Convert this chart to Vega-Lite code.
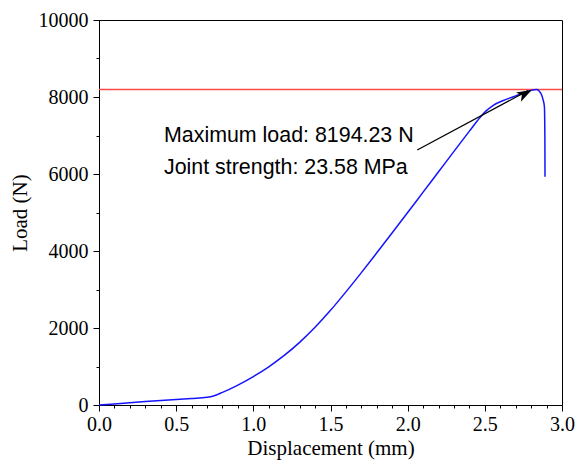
{
  "$schema": "https://vega.github.io/schema/vega-lite/v6.json",
  "width": 463,
  "height": 385,
  "autosize": {"type": "none"},
  "padding": {"left": 99, "top": 20, "right": 14, "bottom": 56},
  "background": "white",
  "config": {
    "view": {"stroke": "black", "strokeWidth": 1},
    "axis": {
      "grid": false,
      "domainColor": "black",
      "domainWidth": 1,
      "tickColor": "black",
      "tickWidth": 1,
      "labelFont": "Liberation Serif",
      "labelFontSize": 20,
      "labelColor": "black",
      "titleFont": "Liberation Serif",
      "titleFontSize": 21,
      "titleFontWeight": "normal",
      "titleColor": "black",
      "labelOverlap": false,
      "labelFlush": false,
      "labelBound": false
    }
  },
  "encoding": {
    "x": {
      "field": "x",
      "type": "quantitative",
      "scale": {"domain": [0, 3], "nice": false, "zero": false},
      "axis": {
        "title": "Displacement (mm)",
        "values": [0, 0.1, 0.2, 0.3, 0.4, 0.5, 0.6, 0.7, 0.8, 0.9, 1.0, 1.1, 1.2, 1.3, 1.4, 1.5, 1.6, 1.7, 1.8, 1.9, 2.0, 2.1, 2.2, 2.3, 2.4, 2.5, 2.6, 2.7, 2.8, 2.9, 3.0],
        "labelExpr": "round(datum.value*10) % 5 === 0 ? format(datum.value, '.1f') : ''",
        "tickSize": {"condition": {"test": "round(datum.value*10) % 5 === 0", "value": 6}, "value": 3},
        "labelPadding": 3,
        "titlePadding": 3
      }
    },
    "y": {
      "field": "y",
      "type": "quantitative",
      "scale": {"domain": [0, 10000], "nice": false},
      "axis": {
        "title": "Load (N)",
        "values": [0, 1000, 2000, 3000, 4000, 5000, 6000, 7000, 8000, 9000, 10000],
        "labelExpr": "datum.value % 2000 === 0 ? '' + datum.value : ''",
        "tickSize": {"condition": {"test": "datum.value % 2000 === 0", "value": 6}, "value": 3},
        "labelPadding": 5,
        "titlePadding": 8
      }
    }
  },
  "layer": [
    {
      "data": {"values": [{"x": 0, "x2": 3, "y": 8194.23}]},
      "mark": {"type": "rule", "color": "#ff4a4a", "strokeWidth": 1.3},
      "encoding": {"x2": {"field": "x2"}}
    },
    {
      "data": {"values": [
        {"x": 0, "y": 0}, {"x": 0.1, "y": 28}, {"x": 0.2, "y": 58}, {"x": 0.3, "y": 88},
        {"x": 0.4, "y": 115}, {"x": 0.5, "y": 140}, {"x": 0.6, "y": 167}, {"x": 0.7, "y": 200},
        {"x": 0.741, "y": 234}, {"x": 0.8, "y": 328}, {"x": 0.9, "y": 518}, {"x": 1.0, "y": 738},
        {"x": 1.1, "y": 993}, {"x": 1.2, "y": 1288}, {"x": 1.3, "y": 1628}, {"x": 1.4, "y": 2018},
        {"x": 1.5, "y": 2458}, {"x": 1.6, "y": 2938}, {"x": 1.7, "y": 3438}, {"x": 1.8, "y": 3953},
        {"x": 1.9, "y": 4473}, {"x": 2.0, "y": 4998}, {"x": 2.1, "y": 5528}, {"x": 2.2, "y": 6058},
        {"x": 2.3, "y": 6588}, {"x": 2.4, "y": 7113}, {"x": 2.469, "y": 7470}, {"x": 2.51, "y": 7645},
        {"x": 2.555, "y": 7785}, {"x": 2.62, "y": 7910}, {"x": 2.685, "y": 8008}, {"x": 2.74, "y": 8090},
        {"x": 2.793, "y": 8164}, {"x": 2.82, "y": 8190}, {"x": 2.836, "y": 8192}, {"x": 2.855, "y": 8140},
        {"x": 2.868, "y": 8052}, {"x": 2.878, "y": 7920}, {"x": 2.886, "y": 7748}, {"x": 2.889, "y": 7000},
        {"x": 2.89, "y": 5930}
      ]},
      "mark": {"type": "line", "color": "#1414ff", "strokeWidth": 1.5, "interpolate": "monotone"}
    },
    {
      "data": {"values": [{"x": 2.062, "y": 6623, "x2": 2.78, "y2": 8165}]},
      "mark": {"type": "rule", "color": "black", "strokeWidth": 1.3},
      "encoding": {"x2": {"field": "x2"}, "y2": {"field": "y2"}}
    },
    {
      "data": {"values": [{"x": 2.804, "y": 8180}]},
      "mark": {"type": "point", "shape": "M0,0 L-2,-0.7 L-1.5,0 L-2,0.7 Z", "size": 225, "angle": 332.3, "filled": true, "color": "black", "opacity": 1, "strokeWidth": 0}
    },
    {
      "data": {"values": [
        {"x": 0.421, "y": 6823, "t": "Maximum load: 8194.23 N"},
        {"x": 0.421, "y": 6000, "t": "Joint strength: 23.58 MPa"}
      ]},
      "mark": {"type": "text", "align": "left", "baseline": "alphabetic", "font": "Liberation Sans", "fontSize": 21.4, "color": "black"},
      "encoding": {"text": {"field": "t"}}
    }
  ]
}
